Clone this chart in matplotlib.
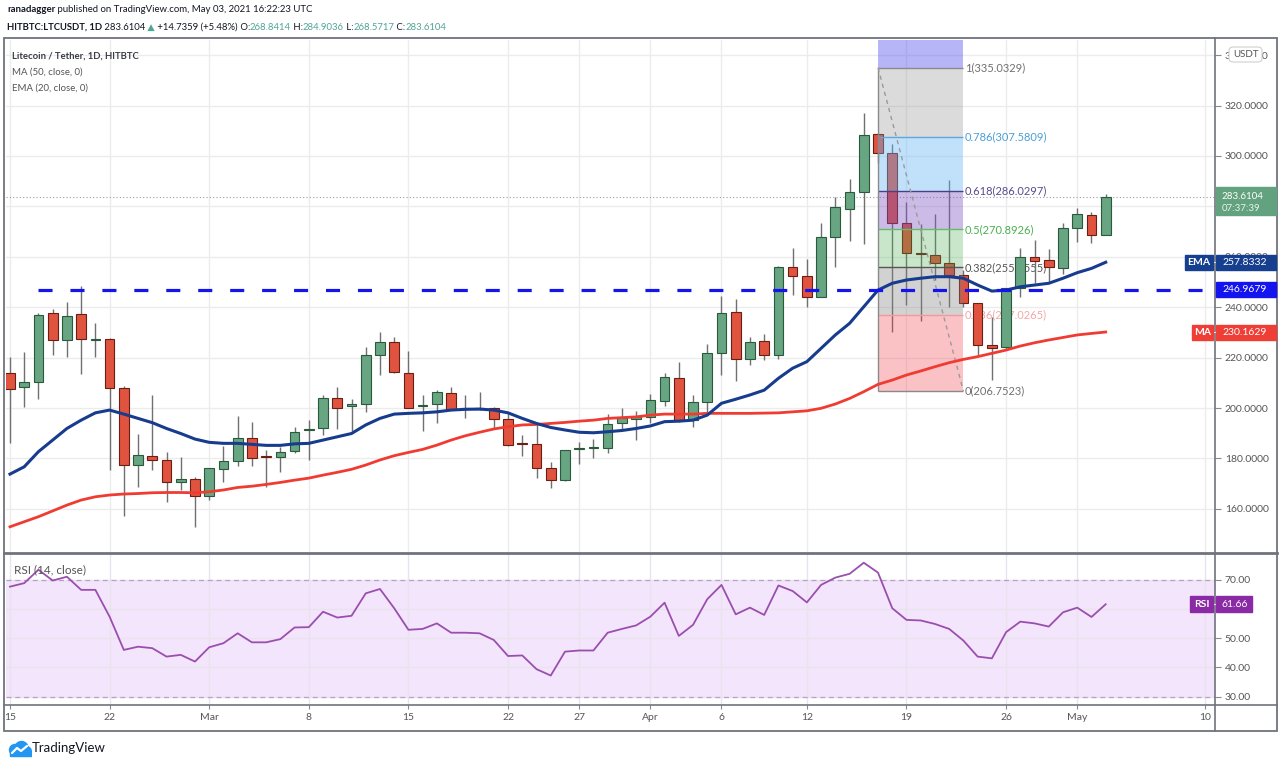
import numpy as np
import matplotlib
matplotlib.use("Agg")
import matplotlib.pyplot as plt
from matplotlib import font_manager
from matplotlib.lines import Line2D
from matplotlib.patches import Rectangle, Circle, FancyBboxPatch
from matplotlib.ticker import FuncFormatter

plt.rcParams["font.family"] = ["Lato", "DejaVu Sans"]

W, H = 1280, 766

# ---- data (day 0 = 2021-02-15, one candle per day) ----
tick_days = [0, 7, 14, 21, 28, 35, 40, 45, 50, 56, 63, 70, 75, 84]
tick_labels = ["15", "22", "Mar", "8", "15", "22", "27", "Apr", "6", "12", "19", "26", "May", "10"]

opens = [213.9, 208.5, 210.4, 237.8, 227.0, 237.4, 227.0, 227.4, 208.1, 177.6,
         181.0, 179.4, 170.5, 171.7, 165.2, 176.0, 179.0, 188.0, 181.0, 180.4,
         182.9, 191.3, 191.9, 203.8, 200.7, 201.5, 221.0, 226.3, 214.1, 200.9,
         201.5, 206.1, 199.8, 199.7, 199.9, 195.5, 186.0, 185.6, 176.1, 171.4,
         183.7, 184.2, 184.3, 193.9, 195.5, 196.6, 202.9, 211.8, 195.2, 202.5,
         221.7, 238.2, 219.3, 226.7, 221.0, 256.1, 252.5, 244.2, 267.7, 279.1,
         285.6, 308.7, 301.3, 273.5, 261.5, 260.7, 257.4, 252.8, 241.5, 224.9,
         224.1, 247.5, 259.8, 258.7, 255.4, 271.3, 276.6, 268.8414]
highs = [220.1, 222.3, 237.8, 239.2, 242.0, 248.4, 233.9, 227.6, 208.7, 189.6,
         205.2, 182.7, 180.7, 172.7, 176.3, 184.9, 196.8, 194.6, 183.3, 184.6,
         192.3, 195.2, 205.2, 208.5, 203.4, 224.1, 230.3, 228.0, 222.7, 205.2,
         207.1, 208.2, 205.2, 206.5, 200.5, 198.5, 189.3, 193.3, 178.7, 183.3,
         186.6, 187.6, 197.6, 199.9, 198.9, 205.6, 213.8, 218.4, 205.2, 225.4,
         244.6, 243.2, 228.3, 229.4, 256.3, 263.4, 259.0, 273.5, 283.6, 291.0,
         316.9, 309.0, 304.8, 281.9, 272.9, 277.0, 290.5, 254.8, 241.8, 236.2,
         247.6, 263.4, 266.7, 263.0, 273.5, 279.2, 277.9, 284.9036]
lows = [186.0, 200.3, 203.4, 221.0, 220.1, 213.5, 220.1, 175.4, 157.3, 168.8,
        175.4, 162.8, 167.5, 152.9, 163.5, 170.8, 177.0, 177.0, 168.8, 174.7,
        182.0, 179.4, 189.3, 191.5, 191.0, 198.5, 213.1, 214.0, 200.0, 191.0,
        194.2, 199.5, 195.9, 199.4, 191.9, 185.0, 181.1, 172.1, 168.3, 171.2,
        178.0, 180.0, 182.3, 191.3, 187.3, 193.9, 200.8, 194.6, 192.3, 198.5,
        213.1, 210.7, 217.0, 219.0, 219.3, 244.8, 239.9, 244.0, 255.8, 266.4,
        265.1, 297.1, 230.3, 240.9, 234.5, 250.8, 240.2, 240.2, 221.0, 211.1,
        223.3, 243.9, 249.5, 250.1, 253.0, 266.0, 265.3, 268.5717]
closes = [207.5, 210.4, 236.9, 227.0, 236.6, 227.4, 227.3, 208.1, 177.6, 181.3,
          179.4, 170.5, 171.7, 165.2, 176.1, 179.1, 188.0, 180.3, 180.5, 182.7,
          190.6, 191.7, 203.8, 199.9, 201.5, 221.0, 226.3, 214.4, 200.1, 201.3,
          206.2, 199.6, 199.6, 199.9, 195.5, 185.3, 185.7, 176.1, 171.4, 183.3,
          184.2, 184.5, 193.7, 195.9, 196.3, 203.2, 212.4, 195.2, 202.3, 221.7,
          237.8, 219.3, 226.2, 221.0, 256.1, 252.5, 244.2, 267.7, 279.9, 285.6,
          308.3, 301.3, 273.5, 261.4, 261.0, 257.4, 252.8, 241.5, 225.0, 223.7,
          247.5, 260.0, 258.5, 255.8, 271.3, 277.0, 268.84, 283.6104]

ma50 = [152.9, 154.9, 156.9, 159.2, 161.5, 163.5, 164.8, 165.5, 165.9, 166.1,
        166.4, 166.5, 166.5, 166.4, 166.8, 167.5, 168.5, 169.0, 169.7, 170.5,
        171.4, 172.2, 173.4, 174.5, 175.7, 177.4, 179.4, 181.1, 182.4, 183.6,
        185.3, 187.3, 189.0, 190.4, 191.7, 192.6, 193.3, 193.5, 193.9, 194.3,
        194.8, 195.2, 195.9, 196.2, 196.5, 197.2, 197.6, 197.6, 197.6, 197.9,
        197.9, 197.9, 197.9, 198.0, 198.1, 198.5, 198.9, 199.9, 201.6, 203.8,
        206.5, 209.4, 211.1, 213.1, 214.7, 216.4, 218.0, 219.3, 220.4, 221.7,
        223.0, 224.6, 225.9, 227.0, 228.0, 229.0, 229.6, 230.1629]
ema20 = [173.8, 176.7, 182.7, 187.3, 191.9, 195.2, 198.1, 199.2, 197.6, 195.9,
         194.2, 191.9, 189.9, 187.7, 186.4, 186.0, 186.0, 185.6, 185.2, 185.2,
         185.8, 186.0, 187.3, 188.6, 189.9, 193.3, 195.9, 197.6, 197.9, 198.1,
         198.5, 199.2, 199.5, 199.6, 199.2, 198.1, 195.9, 193.9, 192.3, 191.3,
         190.4, 190.2, 190.6, 191.1, 191.9, 192.9, 194.6, 194.8, 195.2, 197.2,
         201.9, 203.5, 205.2, 207.1, 211.8, 215.8, 218.4, 223.7, 229.0, 233.6,
         240.2, 246.8, 249.5, 250.8, 251.5, 252.1, 252.1, 251.5, 248.8, 246.4,
         246.8, 248.1, 248.8, 249.5, 251.5, 253.7, 255.4, 257.8332]
rsi14 = [67.7, 68.9, 73.5, 69.8, 71.1, 66.6, 66.6, 57.4, 46.0, 47.1,
         46.6, 43.7, 44.3, 42.0, 46.9, 48.3, 51.7, 48.6, 48.6, 49.7,
         53.7, 53.8, 59.1, 57.1, 57.7, 65.4, 66.9, 60.3, 52.9, 53.2,
         55.1, 51.9, 51.9, 51.7, 49.4, 43.9, 44.1, 39.4, 37.2, 45.4,
         45.8, 45.8, 51.9, 53.2, 54.4, 57.4, 62.2, 50.8, 54.6, 63.4,
         68.3, 58.2, 60.5, 58.0, 68.1, 66.2, 62.3, 68.3, 70.8, 72.1,
         75.9, 72.5, 60.3, 56.3, 56.1, 54.9, 53.2, 49.2, 43.7, 43.1,
         52.1, 55.7, 55.1, 54.0, 58.9, 60.5, 57.3, 61.66]

support_level = 246.9679
support_start_day = 2
fib_high, fib_low = 335.0329, 206.7523
fib_start_day, fib_end_day = 61, 67
fib_levels = [0, 0.236, 0.382, 0.5, 0.618, 0.786, 1, 1.618]

# ---- styling ----
GREEN, GREEN_EDGE = "#68a582", "#2a5a3c"
RED, RED_EDGE = "#e0533f", "#6b1e14"
WICK = "#707070"
GRID = "#ececec"
LABEL = "#555555"
TEAL = "#4fa596"

names = {f.name for f in font_manager.fontManager.ttflist}
NARROW = "Liberation Sans Narrow" if "Liberation Sans Narrow" in names else "Lato"

fig = plt.figure(figsize=(W / 100, H / 100), dpi=100)
fig.patch.set_facecolor("white")
renderer = fig.canvas.get_renderer()


def fx(x):
    return x / W


def fy(y):
    return 1 - y / H


LEFT, RIGHT = 6, 1215
MAIN_TOP, MAIN_BOT = 40, 552
RSI_TOP, RSI_BOT = 554, 705

ax = fig.add_axes([fx(LEFT), fy(MAIN_BOT), (RIGHT - LEFT) / W, (MAIN_BOT - MAIN_TOP) / H])
axr = fig.add_axes([fx(LEFT), fy(RSI_BOT), (RIGHT - LEFT) / W, (RSI_BOT - RSI_TOP) / H], sharex=ax)

days = np.arange(len(closes))
o, h, l, c = map(np.array, (opens, highs, lows, closes))
XMIN, XMAX = -0.28, 84.68
YMIN, YMAX = 142.9, 346.0
ax.set_xlim(XMIN, XMAX)
ax.set_ylim(YMIN, YMAX)

for a in (ax, axr):
    for s in a.spines.values():
        s.set_visible(False)
    a.set_axisbelow(True)

# grid + ticks (280 label sits fully under the last-price badge)
ax.set_yticks(np.arange(160, 341, 20))
ax.set_xticks(tick_days)
ax.grid(True, color=GRID, lw=1)
ax.yaxis.tick_right()
ax.yaxis.set_major_formatter(FuncFormatter(lambda v, p: "" if round(v) == 280 else f"{v:.4f}"))
ax.tick_params(axis="y", length=4, color="#8a8a8a", labelsize=7.5, labelcolor=LABEL, pad=3)
ax.tick_params(axis="x", length=0, labelbottom=False)

# candles
up = c >= o
body_lo = np.minimum(o, c)
body_h = np.maximum(np.abs(c - o), 0.45)
ax.vlines(days, l, h, color=WICK, lw=1, zorder=2)
ax.bar(days, body_h, bottom=body_lo, width=0.68,
       color=np.where(up, GREEN, RED), edgecolor=np.where(up, GREEN_EDGE, RED_EDGE),
       linewidth=0.8, zorder=2.2)

# fib retracement
fib_prices = fib_low + np.array(fib_levels) * (fib_high - fib_low)
band_cols = ["#f23645", "#808080", "#4caf50", "#7e57c2", "#64b5f6", "#909090", "#5b5bef"]
band_alpha = [0.3, 0.35, 0.3, 0.4, 0.4, 0.32, 0.45]
for i in range(len(fib_levels) - 1):
    ax.fill_between([fib_start_day, fib_end_day], fib_prices[i], fib_prices[i + 1],
                    color=band_cols[i], alpha=band_alpha[i], lw=0, zorder=3)
line_cols = ["#8a8a8a", "#f29a9a", "#555555", "#66bb6a", "#4a3d8a", "#5fa6dc", "#8a8a8a", "#8a8a8a"]
text_cols = ["#707070", "#f2a7a7", "#555555", "#4caf50", "#5a4a8c", "#4a9fd6", "#707070", "#707070"]
ax.hlines(fib_prices, fib_start_day, fib_end_day, colors=line_cols, lw=1, zorder=3.1)
ax.vlines(fib_start_day, fib_low, fib_high, color="#8a8a8a", lw=1, zorder=3.1)
for lvl, p, tc in zip(fib_levels, fib_prices, text_cols):
    if p < YMAX - 3:
        ax.text(fib_end_day + 0.1, p, f"{lvl:g}({p:.4f})", color=tc, fontsize=8,
                va="center", ha="left", zorder=1.9)
ax.plot([fib_start_day, fib_end_day], [fib_high, fib_low], color="#9a9a9a", lw=1,
        ls=(0, (3, 3)), zorder=3.2)

# averages, support, last price
ax.plot(days, ma50, color="#f03b32", lw=2, zorder=4)
ax.plot(days, ema20, color="#173c8e", lw=2.2, zorder=4.1)
ax.plot([support_start_day, XMAX], [support_level, support_level], color="#1414ee",
        lw=2.3, ls=(0, (4.4, 5.6)), zorder=4.5)
ax.axhline(c[-1], color="#9a9ca3", lw=0.8, ls=(0, (1, 2)), zorder=1)

# RSI pane
axr.set_ylim(27.1, 78.9)
axr.axhspan(30, 70, color="#f3e5fb", zorder=0.2, lw=0)
axr.set_yticks([30, 40, 50, 60, 70])
axr.grid(True, color="#e9e3ee", lw=1)
for lv in (30, 70):
    axr.axhline(lv, color="#b8a2c4", lw=0.9, ls=(0, (4, 3)), zorder=1)
axr.plot(days, rsi14, color="#9a4fae", lw=1.3, zorder=3)
axr.yaxis.tick_right()
axr.yaxis.set_major_formatter(FuncFormatter(lambda v, p: "" if round(v) == 60 else f"{v:.2f}"))
axr.tick_params(axis="y", length=4, color="#8a8a8a", labelsize=7.5, labelcolor=LABEL, pad=3)
axr.set_xticks(tick_days, tick_labels)
axr.tick_params(axis="x", length=3, color="#8a8a8a", labelsize=7.5, labelcolor=LABEL, pad=3)


# ---- frame lines ----
def fline(x0, y0, x1, y1, color="#70737c", lw=1.2):
    fig.add_artist(Line2D([fx(x0), fx(x1)], [fy(y0), fy(y1)], color=color, lw=lw,
                          transform=fig.transFigure))


fig.add_artist(Rectangle((fx(4), fy(731)), (1277 - 4) / W, (731 - 38) / H, fill=False,
                         edgecolor="#70737c", lw=1.3, transform=fig.transFigure))
fline(4, 553, 1277, 553, lw=2)
fline(4, 705, 1277, 705)
fline(1215, 38, 1215, 731)


# ---- texts ----
def fit_text(x, y, s, width, **kw):
    t = fig.text(fx(x), fy(y), s, fontsize=10, va="center", ha="left", **kw)
    w = t.get_window_extent(renderer).width
    t.set_fontsize(10 * width / w)
    return t


def parts_line(x, y, parts, width, family):
    size = 10
    for k in range(2):
        texts, cx = [], x
        for s, color, weight in parts:
            t = fig.text(fx(cx), fy(y), s, color=color, fontweight=weight, fontsize=size,
                         family=[family, "DejaVu Sans"], va="center", ha="left")
            cx += t.get_window_extent(renderer).width
            texts.append(t)
        if k == 0:
            for t in texts:
                t.remove()
            size = size * width / (cx - x)


parts_line(7, 10, [("ranadagger", "#131722", "bold"),
                   (" published on TradingView.com, May 03, 2021 16:22:23 UTC", "#131722", "normal")],
           308, NARROW)
parts_line(7, 27, [("HITBTC:LTCUSDT, 1D", "#131722", "bold"), (" 283.6104", "#131722", "normal"),
                   (" \u25b2", TEAL, "normal"), (" +14.7359 (+5.48%)", "#131722", "normal"),
                   (" O:", "#131722", "normal"), ("268.8414", TEAL, "normal"),
                   (" H:", "#131722", "normal"), ("284.9036", TEAL, "normal"),
                   (" L:", "#131722", "normal"), ("268.5717", TEAL, "normal"),
                   (" C:", "#131722", "normal"), ("283.6104", TEAL, "normal")],
           438, NARROW)

fit_text(12, 56, "Litecoin / Tether, 1D, HITBTC", 128, color="#3a3d45", family=[NARROW, "DejaVu Sans"],
         fontweight="bold")
fit_text(12, 72, "MA (50, close, 0)", 71, color=LABEL, family=[NARROW, "DejaVu Sans"])
fit_text(12, 88, "EMA (20, close, 0)", 76, color=LABEL, family=[NARROW, "DejaVu Sans"])
fit_text(14, 570, "RSI (14, close)", 72, color=LABEL, family=[NARROW, "DejaVu Sans"])


# ---- price scale labels ----
def ypx(axis, v):
    return H - axis.transData.transform((0, v))[1]


def scale_box(axis, value, text, color, name=None, name_x0=1185, x1=1276, hh=15):
    y = ypx(axis, value)
    fig.add_artist(Rectangle((fx(1216), fy(y + hh / 2)), (x1 - 1216) / W, hh / H,
                             color=color, transform=fig.transFigure, zorder=5))
    fig.text(fx(1222), fy(y), text, color="white", fontsize=7.5, va="center", ha="left", zorder=6)
    if name:
        fig.add_artist(Rectangle((fx(name_x0), fy(y + hh / 2)), (1213 - name_x0) / W, hh / H,
                                 color=color, transform=fig.transFigure, zorder=5))
        fig.text(fx((name_x0 + 1213) / 2), fy(y), name, color="white", fontsize=7.5,
                 fontweight="bold", va="center", ha="center", zorder=6)
        fline(1213, y, 1219, y, color="white", lw=0.8)


y_last = ypx(ax, c[-1])
fig.add_artist(Rectangle((fx(1216), fy(y_last + 18)), 60 / W, 28 / H, color="#62a27e",
                         transform=fig.transFigure, zorder=5))
fig.text(fx(1222), fy(y_last - 1), f"{c[-1]:.4f}", color="white", fontsize=7, va="center", zorder=6)
fig.text(fx(1222), fy(y_last + 11), "07:37:39", color="#e8f3ec", fontsize=7, va="center", zorder=6)

scale_box(ax, ema20[-1], f"{ema20[-1]:.4f}", "#163f8f", name="EMA", name_x0=1185)
scale_box(ax, support_level, f"{support_level:.4f}", "#1414ee")
scale_box(ax, ma50[-1], f"{ma50[-1]:.4f}", "#ee3e36", name="MA", name_x0=1192)
scale_box(axr, rsi14[-1], f"{rsi14[-1]:.2f}", "#8a2aa5", name="RSI", name_x0=1190, x1=1252, hh=16)

# USDT unit badge
fig.add_artist(FancyBboxPatch((fx(1229), fy(62)), 33 / W, 15 / H,
                              boxstyle="round,pad=0,rounding_size=0.004", facecolor="white",
                              edgecolor="#d0d0d0", lw=0.8, transform=fig.transFigure, zorder=5))
fig.text(fx(1245.5), fy(54.5), "USDT", color=LABEL, fontsize=7, va="center", ha="center", zorder=6)

# ---- TradingView logo ----
lax = fig.add_axes([fx(6), fy(758), 26 / W, 20 / H])
lax.set_xlim(0, 26)
lax.set_ylim(0, 20)
lax.axis("off")
lax.add_patch(Circle((9, 8), 5.5, color="#2196f3"))
lax.add_patch(Circle((15.5, 10), 6.5, color="#2196f3"))
lax.add_patch(Circle((21, 7), 4.2, color="#2196f3"))
lax.add_patch(Rectangle((4, 2.5), 21, 5, color="#2196f3"))
lax.plot([6, 11, 15, 21], [5, 10, 7, 12], color="white", lw=1.6, solid_capstyle="round")
fig.text(fx(32), fy(748), "TradingView", color="#131722", fontsize=9.5, va="center",
         family=[NARROW, "DejaVu Sans"])

fig.savefig("out.png", dpi=100, facecolor="white")
